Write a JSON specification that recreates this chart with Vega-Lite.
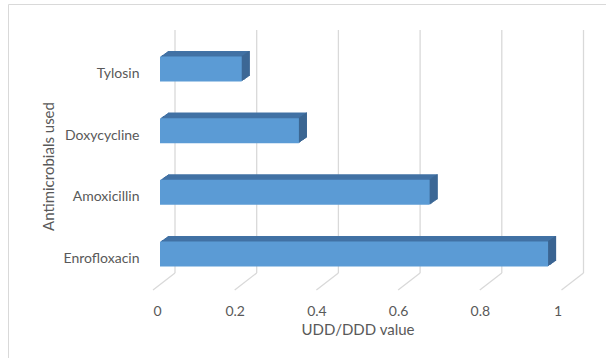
{
  "$schema": "https://vega.github.io/schema/vega-lite/v6.json",
  "width": 598,
  "height": 354,
  "autosize": "none",
  "padding": {"left": 8, "top": 4, "right": 0, "bottom": 0},
  "background": "#ffffff",
  "config": {
    "view": {"stroke": "#d9d9d9", "strokeWidth": 1},
    "font": "Lato",
    "axis": {"labelFont": "Lato", "titleFont": "Lato", "labelColor": "#595959", "titleColor": "#595959", "titleFontWeight": "normal"}
  },
  "datasets": {
    "drugs": [
      {"drug": "Tylosin", "value": 0.2},
      {"drug": "Doxycycline", "value": 0.34},
      {"drug": "Amoxicillin", "value": 0.66},
      {"drug": "Enrofloxacin", "value": 0.95}
    ],
    "grid": [
      {"value": 0}, {"value": 0.2}, {"value": 0.4}, {"value": 0.6}, {"value": 0.8}, {"value": 1}
    ]
  },
  "layer": [
    {
      "data": {"name": "grid"},
      "mark": {"type": "rule", "color": "#d9d9d9", "strokeWidth": 1.3, "xOffset": 15, "x2Offset": 15, "yOffset": -26.5, "y2Offset": 6.5},
      "encoding": {
        "x": {"field": "value", "type": "quantitative"},
        "x2": {"field": "value"},
        "y": {"datum": "Tylosin", "bandPosition": 0},
        "y2": {"datum": "Enrofloxacin", "bandPosition": 1}
      }
    },
    {
      "data": {"name": "grid"},
      "mark": {"type": "rule", "color": "#d9d9d9", "strokeWidth": 1.3, "xOffset": 15, "x2Offset": -7, "yOffset": 6.5, "y2Offset": 23.5},
      "encoding": {
        "x": {"field": "value", "type": "quantitative"},
        "x2": {"field": "value"},
        "y": {"datum": "Enrofloxacin", "bandPosition": 1},
        "y2": {"datum": "Enrofloxacin", "bandPosition": 1}
      }
    },
    {
      "data": {"name": "drugs"},
      "encoding": {
        "x": {
          "field": "value", "type": "quantitative",
          "scale": {"domain": [0, 1], "range": [152, 560.5], "nice": false, "zero": true},
          "axis": {
            "orient": "bottom", "offset": -47, "values": [0, 0.2, 0.4, 0.6, 0.8, 1], "format": "~g",
            "grid": false, "domain": false, "ticks": false, "tickSize": 0,
            "labelPadding": 0, "labelBaseline": "middle", "labelOffset": -7, "labelFontSize": 14,
            "title": "UDD/DDD value", "titleFontSize": 15, "titleX": 349.5, "titleY": 18, "titleBaseline": "middle", "titleAnchor": null, "titleAlign": "center"
          }
        },
        "y": {
          "field": "drug", "type": "nominal",
          "scale": {"domain": ["Tylosin", "Doxycycline", "Amoxicillin", "Enrofloxacin"], "range": [34.17, 280.83], "paddingInner": 0.595, "paddingOuter": 0.2975},
          "axis": {
            "orient": "left", "offset": -131, "grid": false, "domain": false, "ticks": false, "tickSize": 0,
            "labelPadding": 0, "labelAlign": "right", "labelBaseline": "middle", "labelOffset": 5, "labelFontSize": 14,
            "title": "Antimicrobials used", "titleFontSize": 15, "titleAngle": -90, "titleX": -91, "titleY": 162, "titleAlign": "center", "titleBaseline": "middle", "titleAnchor": null
          }
        }
      },
      "layer": [
        {"mark": {"type": "bar", "color": "#4272a5", "xOffset": 8, "x2Offset": 8, "yOffset": -5.6, "y2Offset": -5.6}},
        {"mark": {"type": "bar", "color": "#4272a5", "xOffset": 7, "x2Offset": 7, "yOffset": -4.9, "y2Offset": -4.9}},
        {"mark": {"type": "bar", "color": "#4272a5", "xOffset": 6, "x2Offset": 6, "yOffset": -4.2, "y2Offset": -4.2}},
        {"mark": {"type": "bar", "color": "#4272a5", "xOffset": 5, "x2Offset": 5, "yOffset": -3.5, "y2Offset": -3.5}},
        {"mark": {"type": "bar", "color": "#4272a5", "xOffset": 4, "x2Offset": 4, "yOffset": -2.8, "y2Offset": -2.8}},
        {"mark": {"type": "bar", "color": "#4272a5", "xOffset": 3, "x2Offset": 3, "yOffset": -2.1, "y2Offset": -2.1}},
        {"mark": {"type": "bar", "color": "#4272a5", "xOffset": 2, "x2Offset": 2, "yOffset": -1.4, "y2Offset": -1.4}},
        {"mark": {"type": "bar", "color": "#4272a5", "xOffset": 1, "x2Offset": 1, "yOffset": -0.7, "y2Offset": -0.7}},
        {"mark": {"type": "tick", "color": "#3b6591", "orient": "vertical", "thickness": 1, "size": 25, "opacity": 1, "xOffset": 7.5, "yOffset": -5.6}},
        {"mark": {"type": "tick", "color": "#3b6591", "orient": "vertical", "thickness": 1, "size": 25, "opacity": 1, "xOffset": 6.5, "yOffset": -4.9}},
        {"mark": {"type": "tick", "color": "#3b6591", "orient": "vertical", "thickness": 1, "size": 25, "opacity": 1, "xOffset": 5.5, "yOffset": -4.2}},
        {"mark": {"type": "tick", "color": "#3b6591", "orient": "vertical", "thickness": 1, "size": 25, "opacity": 1, "xOffset": 4.5, "yOffset": -3.5}},
        {"mark": {"type": "tick", "color": "#3b6591", "orient": "vertical", "thickness": 1, "size": 25, "opacity": 1, "xOffset": 3.5, "yOffset": -2.8}},
        {"mark": {"type": "tick", "color": "#3b6591", "orient": "vertical", "thickness": 1, "size": 25, "opacity": 1, "xOffset": 2.5, "yOffset": -2.1}},
        {"mark": {"type": "tick", "color": "#3b6591", "orient": "vertical", "thickness": 1, "size": 25, "opacity": 1, "xOffset": 1.5, "yOffset": -1.4}},
        {"mark": {"type": "tick", "color": "#3b6591", "orient": "vertical", "thickness": 1, "size": 25, "opacity": 1, "xOffset": 0.5, "yOffset": -0.7}},
        {"mark": {"type": "bar", "color": "#5b9bd5"}}
      ]
    }
  ]
}
